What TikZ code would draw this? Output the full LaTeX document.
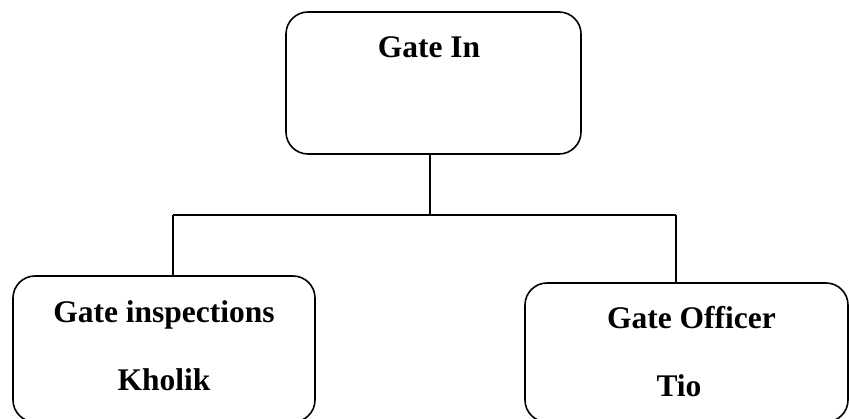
\documentclass[tikz,border=0pt]{standalone}
\usepackage{fontspec}
\setmainfont{Liberation Serif}
\usepackage{tikz}

\begin{document}
\begin{tikzpicture}[x=1pt, y=-1pt, line width=1.6pt, orgbox/.style={rectangle, draw, rounded corners=22pt, inner sep=0pt}, lbl/.style={anchor=base, inner sep=0pt, font=\bfseries\fontsize{31.5}{38}\selectfont}]
  \useasboundingbox (0,0) rectangle (849,419);
  \clip (0,0) rectangle (849,419);
  % boxes
  \node[orgbox, minimum width=295pt, minimum height=142pt] (gatein) at (433.5,83) {};
  \node[orgbox, minimum width=302pt, minimum height=146pt] (inspect) at (164,349) {};
  \node[orgbox, minimum width=323pt, minimum height=139pt] (officer) at (686.5,352.5) {};
  % texts
  \node[lbl] (gateinTxt) at (429,58) {Gate In};
  \node[lbl] (inspectTxt) at (164,323) {Gate inspections};
  \node[lbl] (inspectName) at (164,391) {Kholik};
  \node[lbl] (officerTxt) at (691.5,329) {Gate Officer};
  \node[lbl] (officerName) at (679,397) {Tio};
  % connectors
  \coordinate (bus) at (430,215);
  \coordinate (busL) at (173,215);
  \coordinate (busR) at (676,215);
  \draw (bus |- gatein.south) -- (bus);
  \draw (busL) -- (busR);
  \draw (busL) -- (busL |- inspect.north);
  \draw (busR) -- (busR |- officer.north);
\end{tikzpicture}
\end{document}
